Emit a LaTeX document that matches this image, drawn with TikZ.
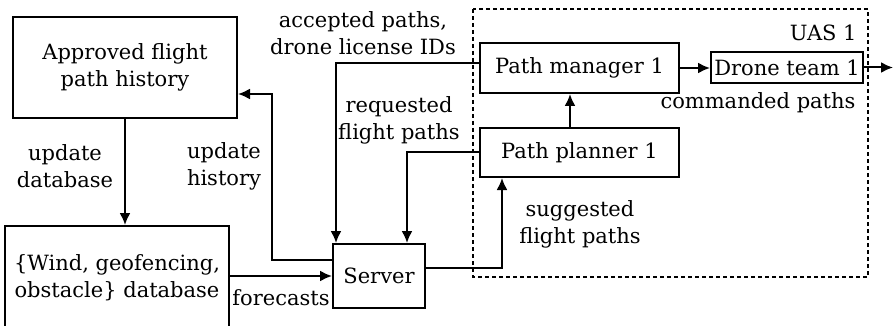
\documentclass[tikz,border=0pt]{standalone}
\usepackage{fontspec}
\setmainfont{DejaVu Serif}
\usetikzlibrary{arrows.meta}

\tikzset{
  blk/.style={draw, line width=1pt, inner sep=1pt, align=center},
  lbl/.style={align=center, inner sep=0pt},
  flow/.style={line width=1pt, -{Latex[length=6pt,width=5.5pt]}},
}

\begin{document}
\begin{tikzpicture}[x=0.5pt,y=-0.5pt,font=\fontsize{10.5}{13.5}\selectfont]
\useasboundingbox (0,0) rectangle (894,326);
% boxes
\node[blk,minimum width=112pt,minimum height=50.5pt] (appr) at (125,67.5) {Approved flight\\path history};
\node[blk,minimum width=112pt,minimum height=52pt] (db) at (117,278) {\{Wind, geofencing,\\obstacle\} database};
\node[blk,minimum width=46pt,minimum height=32pt] (server) at (379,276) {Server};
\node[blk,minimum width=99.5pt,minimum height=25pt] (mgr) at (579.5,68) {Path manager 1};
\node[blk,minimum width=99.5pt,minimum height=24.5pt] (plan) at (579.5,152.5) {Path planner 1};
\node[blk,inner sep=0.5pt,minimum width=76pt,minimum height=15.5pt] (team) at (787,67.5) {Drone team 1};
\coordinate (out) at (893,67.5);
% UAS frame
\draw[line width=1pt,dash pattern=on 2pt off 1.5pt] (473,9) rectangle (868,277);
\node[lbl,anchor=east] (uas) at (857,33) {UAS 1};
% connectors
\draw[flow] (appr.south) -- (appr.south |- db.north);
\draw[flow] ([yshift=8pt]server.west) -- ++(-60,0) |- ([yshift=-13.25pt]appr.east);
\draw[flow] (db.east |- server.west) -- (server.west);
\draw[flow] ([yshift=2.5pt]mgr.west) -| ([xshift=2pt]server.north west);
\draw[flow] (plan.west) -| ([xshift=-9.5pt]server.north east);
\draw[flow] ([yshift=4pt]server.east) -| ([xshift=-38.75pt]plan.south);
\draw[flow] ([xshift=-4.75pt]plan.north) -- ([xshift=-4.75pt]mgr.south);
\draw[flow] (mgr.east) -- (mgr.east -| team.west);
\draw[flow] (team.east) -- (out);
% labels
\node[lbl] (upddb) at (65,166) {update\\database};
\node[lbl] (updhist) at (224,166) {update\\history};
\node[lbl] (fcast) at (281,298) {forecasts};
\node[lbl] (acc) at (363,33) {accepted paths,\\drone license IDs};
\node[lbl] (req) at (399,120) {requested\\flight paths};
\node[lbl] (sugg) at (580,224) {suggested\\flight paths};
\node[lbl] (cmd) at (758,103) {commanded paths};
\end{tikzpicture}
\end{document}
